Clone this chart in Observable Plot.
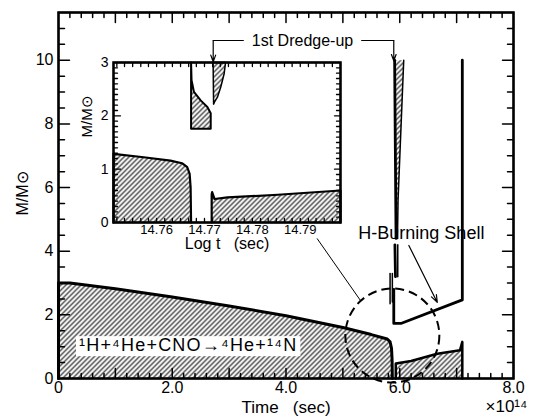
<!DOCTYPE html>
<html><head><meta charset="utf-8">
<script src="https://cdn.jsdelivr.net/npm/d3@7"></script>
<script src="https://cdn.jsdelivr.net/npm/@observablehq/plot@0.6"></script>
<style>
body{margin:0;background:#fff;}
#wrap{position:relative;width:533px;height:419px;overflow:hidden;font-family:"Liberation Sans",Arial,Helvetica,sans-serif;}
#wrap > svg{position:absolute;overflow:visible;}
</style></head><body><div id="wrap"></div>
<script>
// ---------- main chart data (time in 1e14 s, mass in solar masses) ----------
const coreT = [0, 0, 0.2, 1.0, 2.0, 3.0, 4.0, 5.0, 5.5, 5.78, 5.83, 5.855, 5.865, 5.87];
const coreM = [0, 3.0, 3.0, 2.82, 2.56, 2.28, 1.97, 1.6, 1.38, 1.24, 1.15, 0.95, 0.6, 0];
const shellT = [5.93, 5.93, 6.2, 6.66, 7.06, 7.1, 7.1];
const shellM = [0, 0.47, 0.55, 0.78, 0.89, 1.15, 0];
const dredgeT = [5.91, 6.07, 5.97, 5.955, 5.935];
const dredgeM = [10, 10, 5.6, 4.4, 4.4];
const thickSeg = ["a", "a", "c", "c", "g", "g", "g", "g", "g"];
const thickT = [5.91, 5.935, 5.915, 5.925, 5.895, 5.895, 6.02, 7.1, 7.1];
const thickM = [10, 4.4, 4.2, 3.2, 2.8, 1.73, 1.73, 2.47, 10];
const thinSeg = ["b", "b", "b", "d", "d", "e", "e", "f", "f"];
const thinT = [6.07, 5.97, 5.96, 5.965, 5.965, 5.83, 5.83, 5.87, 5.87];
const thinM = [10, 5.6, 4.4, 4.2, 3.2, 3.3, 2.35, 3.3, 2.4];
const circleC = [{t: 5.87, m: 1.35}];
const connectT = [4.55, 5.31];
const connectM = [4.39, 2.45];
const hArrow = [{t1: 6.16, m1: 4.18, t2: 6.66, m2: 2.39}];
const dredgeLine = [{id: "L", t: 3.25, m: 10.62}, {id: "L", t: 2.72, m: 10.62}, {id: "R", t: 5.33, m: 10.62}, {id: "R", t: 5.895, m: 10.62}];
const dredgeArrows = [{t: 2.72, m1: 10.62, m2: 9.95}, {t: 5.895, m1: 10.62, m2: 9.98}];
const dredgeLabel = [{t: 4.29, m: 10.62, s: "1st Dredge-up"}];
const shellLabel = [{t: 6.38, m: 4.56, s: "H-Burning Shell"}];
const reaction = [{t: 2.28, m: 1.04, s: "\u00B9H+\u2074He+CNO\u2192\u2074He+\u00B9\u2074N"}];
const xLabelTicks = [0, 2, 4, 6, 8];
const yLabelTicks = [0, 2, 4, 6, 8, 10];
const xMinorTicks = [0.2, 0.4, 0.6, 0.8, 1.2, 1.4, 1.6, 1.8, 2.2, 2.4, 2.6, 2.8, 3.2, 3.4, 3.6, 3.8, 4.2, 4.4, 4.6, 4.8, 5.2, 5.4, 5.6, 5.8, 6.2, 6.4, 6.6, 6.8, 7.2, 7.4, 7.6, 7.8];
const xMajorTicks = [1, 2, 3, 4, 5, 6, 7];
const yMinorTicks = [0.5, 1, 1.5, 2.5, 3, 3.5, 4.5, 5, 5.5, 6.5, 7, 7.5, 8.5, 9, 9.5, 10.5, 11];
const yMajorTicks = [2, 4, 6, 8, 10];

// ---------- inset data (log t, mass) ----------
const inCoreX = [14.751, 14.751, 14.7573, 14.7629, 14.7653, 14.7664, 14.7669, 14.7671, 14.7672];
const inCoreM = [0, 1.287, 1.223, 1.161, 1.111, 1.036, 0.91, 0.66, 0];
const inShellX = [14.7715, 14.7715, 14.7716, 14.7721, 14.7748, 14.7853, 14.7984, 14.7984];
const inShellM = [0, 0.53, 0.57, 0.44, 0.47, 0.52, 0.60, 0];
const inMidX = [14.7672, 14.7673, 14.7678, 14.7692, 14.7706, 14.7713, 14.7713, 14.7672, 14.7672];
const inMidM = [3, 2.667, 2.447, 2.29, 2.165, 2.05, 1.757, 1.757, 3];
const inDredgeX = [14.7718, 14.7744, 14.7741, 14.7734, 14.7727, 14.7721, 14.7719, 14.7718];
const inDredgeM = [3, 3, 2.79, 2.54, 2.35, 2.26, 2.22, 3];
const inXTicks = [14.76, 14.77, 14.78, 14.79];
const inYTicks = [0, 1, 2, 3];
const inXMinorTicks = [14.7517, 14.7533, 14.755, 14.7567, 14.7583, 14.76, 14.7617, 14.7633, 14.765, 14.7667, 14.7683, 14.77, 14.7717, 14.7733, 14.775, 14.7767, 14.7783, 14.78, 14.7817, 14.7833, 14.785, 14.7867, 14.7883, 14.79, 14.7917, 14.7933, 14.795, 14.7967];
const inYMinorTicks = [0.1, 0.2, 0.3, 0.4, 0.5, 0.6, 0.7, 0.8, 0.9, 1.1, 1.2, 1.3, 1.4, 1.5, 1.6, 1.7, 1.8, 1.9, 2.1, 2.2, 2.3, 2.4, 2.5, 2.6, 2.7, 2.8, 2.9];
const inYMajorTicks = [1, 2];

const zip = (xs, ys, extra) => xs.map((x, i) => ({x, y: ys[i], z: extra ? extra[i] : 0}));
const FONT = '"Liberation Sans", Arial, Helvetica, sans-serif';
const NS = "http://www.w3.org/2000/svg";

function addHatch(svg, id) {
  const defs = document.createElementNS(NS, "defs");
  defs.innerHTML = `<pattern id="${id}" patternUnits="userSpaceOnUse" width="5" height="5"><path d="M-1,1 l2,-2 M0,5 l5,-5 M4,6 l2,-2" stroke="#000" stroke-width="1.05"/></pattern>`;
  svg.insertBefore(defs, svg.firstChild);
}

// One continuous "comb" path per frame side: runs along the edge and
// steps inward at each tick (tick length in px converted to data units).
function comb(minor, major, lenMinor, lenMajor, side, xd, yd, kx, ky) {
  const ticks = [...minor.map(v => [v, lenMinor]), ...major.map(v => [v, lenMajor])].sort((a, b) => a[0] - b[0]);
  const pts = [];
  const horiz = side === "bottom" || side === "top";
  const lo = horiz ? xd[0] : yd[0], hi = horiz ? xd[1] : yd[1];
  const base = side === "bottom" ? yd[0] : side === "top" ? yd[1] : side === "left" ? xd[0] : xd[1];
  const dir = side === "bottom" || side === "left" ? 1 : -1;
  const k = horiz ? ky : kx;
  const P = (along, off) => horiz ? {x: along, y: base + dir * off / k, z: side} : {x: base + dir * off / k, y: along, z: side};
  pts.push(P(lo, 0));
  for (const [v, len] of ticks) { pts.push(P(v, 0), P(v, len), P(v, 0)); }
  pts.push(P(hi, 0));
  return pts;
}

// main dimensions and scale domains
const W = 533, H = 419, ML = 58, MR = 20, MT = 12, MB = 41;
const XD = [0, 8], YD = [0, 11.5];
const kx = (W - ML - MR) / (XD[1] - XD[0]);
const ky = (H - MT - MB) / (YD[1] - YD[0]);
const mainCombs = [
  ...comb(xMinorTicks, xMajorTicks, 5, 10, "bottom", XD, YD, kx, ky),
  ...comb(xMinorTicks, xMajorTicks, 5, 10, "top", XD, YD, kx, ky),
  ...comb(yMinorTicks, yMajorTicks, 6, 11, "left", XD, YD, kx, ky),
  ...comb(yMinorTicks, yMajorTicks, 6, 11, "right", XD, YD, kx, ky)
];

const main = Plot.plot({
  width: W, height: H,
  marginLeft: ML, marginRight: MR, marginTop: MT, marginBottom: MB,
  style: {fontFamily: FONT, background: "transparent", color: "black"},
  x: {domain: XD},
  y: {domain: YD},
  marks: [
    Plot.line(zip(coreT, coreM), {x: "x", y: "y", fill: "url(#hatchMain)", stroke: "black", strokeWidth: 3, strokeLinejoin: "round"}),
    Plot.line(zip(shellT, shellM), {x: "x", y: "y", fill: "url(#hatchMain)", stroke: "black", strokeWidth: 2.5}),
    Plot.line(zip(dredgeT, dredgeM), {x: "x", y: "y", fill: "url(#hatchMain)", stroke: "none"}),
    Plot.line(zip(thickT, thickM, thickSeg), {x: "x", y: "y", z: "z", stroke: "black", strokeWidth: 2.8}),
    Plot.line(zip(thinT, thinM, thinSeg), {x: "x", y: "y", z: "z", stroke: "black", strokeWidth: 1.5}),
    Plot.dot(circleC, {x: "t", y: "m", r: 47, stroke: "black", strokeWidth: 2, strokeDasharray: "9,5", fill: "none"}),
    Plot.line(zip(connectT, connectM), {x: "x", y: "y", stroke: "black", strokeWidth: 1}),
    Plot.arrow(hArrow, {x1: "t1", y1: "m1", x2: "t2", y2: "m2", stroke: "black", strokeWidth: 1.2, headLength: 10, headAngle: 40}),
    Plot.line(dredgeLine, {x: "t", y: "m", z: "id", stroke: "black", strokeWidth: 1.2}),
    Plot.arrow(dredgeArrows, {x1: "t", x2: "t", y1: "m1", y2: "m2", stroke: "black", strokeWidth: 1.2, headLength: 10, headAngle: 40}),
    Plot.text(dredgeLabel, {x: "t", y: "m", text: "s", fontSize: 16, fill: "black"}),
    Plot.text(shellLabel, {x: "t", y: "m", text: "s", fontSize: 18, fill: "black"}),
    Plot.text(reaction, {x: "t", y: "m", text: "s", fontSize: 18, fill: "black"}),
    Plot.frame({stroke: "black", strokeWidth: 2.5}),
    Plot.line(mainCombs, {x: "x", y: "y", z: "z", stroke: "black", strokeWidth: 1.5, fill: "none", curve: "linear"}),
    Plot.axisX(xLabelTicks, {anchor: "bottom", tickSize: 0, tickPadding: 3, fontSize: 16, tickFormat: d => d === 0 ? "0" : d.toFixed(1), label: null}),
    Plot.axisY(yLabelTicks, {anchor: "left", tickSize: 0, tickPadding: 5, fontSize: 16, label: null}),
    Plot.text(["M/M\u2299"], {frameAnchor: "left", dx: -36, dy: 20, rotate: -90, fontSize: 16, fill: "black"}),
    Plot.text(["Time\u00A0\u00A0\u00A0(sec)"], {frameAnchor: "bottom", dy: 34, fontSize: 17, fill: "black"}),
    Plot.text(["\u00D710\u00B9\u2074"], {frameAnchor: "bottom-right", textAnchor: "start", dx: -28, dy: 33, fontSize: 17, fill: "black"})
  ]
});
addHatch(main, "hatchMain");
main.style.left = "0px"; main.style.top = "0px";
document.getElementById("wrap").appendChild(main);
main.querySelectorAll("text").forEach(t => {
  if (t.textContent === reaction[0].s) {
    t.setAttribute("letter-spacing", "1.2");
    const b = t.getBBox();
    const r = document.createElementNS(NS, "rect");
    r.setAttribute("x", b.x - 3); r.setAttribute("y", b.y + 1);
    r.setAttribute("width", b.width + 6); r.setAttribute("height", b.height);
    r.setAttribute("fill", "white");
    const tr = t.getAttribute("transform");
    if (tr) r.setAttribute("transform", tr);
    t.parentNode.insertBefore(r, t);
  }
});

// ---------- inset ----------
const iW = 290, iH = 210, iML = 53, iMR = 10, iMT = 12, iMB = 38;
const iXD = [14.751, 14.7984], iYD = [0, 3];
const ikx = (iW - iML - iMR) / (iXD[1] - iXD[0]);
const iky = (iH - iMT - iMB) / (iYD[1] - iYD[0]);
const insetCombs = [
  ...comb(inXMinorTicks, [], 4, 4, "top", iXD, iYD, ikx, iky),
  ...comb(inXMinorTicks, [], 4, 4, "bottom", iXD, iYD, ikx, iky),
  ...comb(inYMinorTicks, inYMajorTicks, 4, 7, "left", iXD, iYD, ikx, iky),
  ...comb(inYMinorTicks, inYMajorTicks, 4, 6, "right", iXD, iYD, ikx, iky)
];
const inset = Plot.plot({
  width: iW, height: iH,
  marginLeft: iML, marginRight: iMR, marginTop: iMT, marginBottom: iMB,
  style: {fontFamily: FONT, background: "transparent", color: "black"},
  x: {domain: iXD},
  y: {domain: iYD},
  marks: [
    Plot.line(zip(inCoreX, inCoreM), {x: "x", y: "y", fill: "url(#hatchIn)", stroke: "black", strokeWidth: 2.2}),
    Plot.line(zip(inShellX, inShellM), {x: "x", y: "y", fill: "url(#hatchIn)", stroke: "black", strokeWidth: 2.2}),
    Plot.line(zip(inMidX, inMidM), {x: "x", y: "y", fill: "url(#hatchIn)", stroke: "black", strokeWidth: 2}),
    Plot.line(zip(inDredgeX, inDredgeM), {x: "x", y: "y", fill: "url(#hatchIn)", stroke: "black", strokeWidth: 1.5}),
    Plot.frame({stroke: "black", strokeWidth: 2.5}),
    Plot.line(insetCombs, {x: "x", y: "y", z: "z", stroke: "black", strokeWidth: 1.3, fill: "none", curve: "linear"}),
    Plot.axisX(inXTicks, {anchor: "bottom", tickSize: 0, tickPadding: 2, fontSize: 13, tickFormat: d3.format(".2f"), label: null}),
    Plot.axisY(inYTicks, {anchor: "left", tickSize: 0, tickPadding: 5, fontSize: 14, tickFormat: d3.format("d"), label: null}),
    Plot.text(["M/M\u2299"], {frameAnchor: "left", dx: -26, dy: -5, rotate: -90, fontSize: 15, fill: "black"}),
    Plot.text(["Log t\u00A0\u00A0\u00A0(sec)"], {frameAnchor: "bottom", dy: 26, fontSize: 16, fill: "black"})
  ]
});
addHatch(inset, "hatchIn");
inset.style.left = "60px"; inset.style.top = "50px";
document.getElementById("wrap").appendChild(inset);
</script></body></html>
